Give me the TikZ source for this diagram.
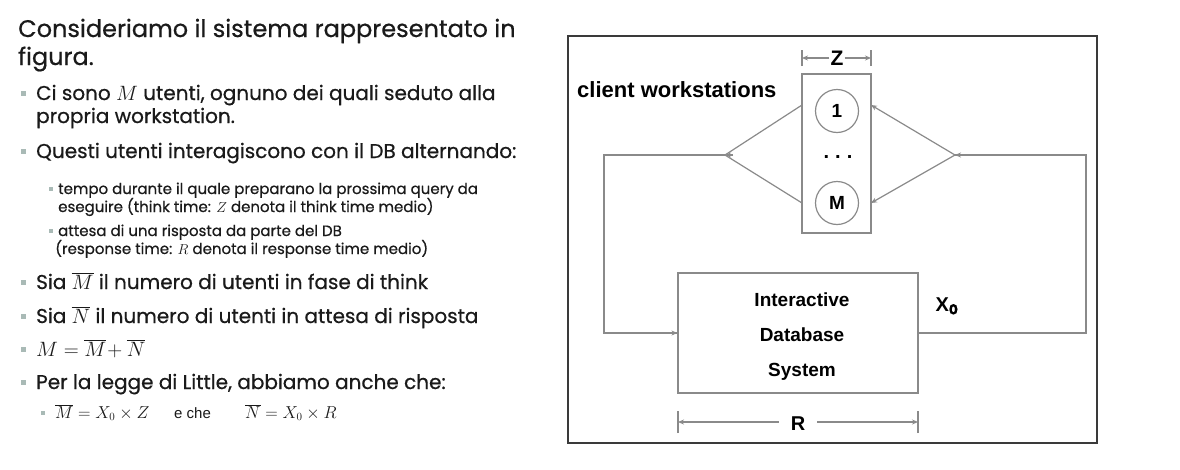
\documentclass[tikz,border=0pt]{standalone}
\usepackage{fontspec}
\setmainfont{Poppins}[FakeBold=0.6]
\newfontfamily\diag{Liberation Sans}
\usetikzlibrary{arrows.meta}
\definecolor{txt}{HTML}{1A1A1A}
\definecolor{bul}{HTML}{A9BAB6}
\definecolor{lnc}{HTML}{8A8A8A}
\definecolor{frm}{HTML}{3A3A3A}
\begin{document}
\begin{tikzpicture}[x=1pt,y=-1pt,
  tl/.style={anchor=base west,inner sep=0pt,text=txt},
  big/.style={tl,font=\fontsize{24}{28}\selectfont},
  mid/.style={tl,font=\fontsize{20}{24}\selectfont},
  sml/.style={tl,font=\fontsize{15}{18}\selectfont},
  bulsq/.style={fill=bul,draw=none,minimum size=5pt,inner sep=0pt},
  sbulsq/.style={fill=bul,draw=none,minimum size=4pt,inner sep=0pt},
  lab/.style={font=\diag\bfseries\fontsize{19}{22}\selectfont,inner sep=1pt,text=black},
  ln/.style={draw=lnc,line width=1.2pt},
  tip/.style={-{Stealth[length=6pt,width=5pt]}},
  box/.style={draw=lnc,line width=1.2pt,inner sep=0pt}
]
\useasboundingbox (0,0) rectangle (1180,469);
% ---------- left text ----------
\node[big] (t1) at (18,37) {Consideriamo il sistema rappresentato in};
\node[big] (t2) at (18,65) {figura.};
\node[bulsq] (b1) at (23,93) {};
\node[mid] (l1) at (36,100) {Ci sono $M$ utenti, ognuno dei quali seduto alla};
\node[mid] (l1b) at (36,123) {propria workstation.};
\node[bulsq] (b2) at (23,151) {};
\node[mid] (l2) at (36,158) {Questi utenti interagiscono con il DB alternando:};
\node[sbulsq] (s1) at (51,189) {};
\node[sml] (m1) at (58,194) {tempo durante il quale preparano la prossima query da};
\node[sml] (m1b) at (58,212) {eseguire (think time: $Z$ denota il think time medio)};
\node[sbulsq] (s2) at (51,231) {};
\node[sml] (m2) at (58,236) {attesa di una risposta da parte del DB};
\node[sml] (m2b) at (55,254) {(response time: $R$ denota il response time medio)};
\node[bulsq] (b3) at (23,282) {};
\node[mid] (l3) at (36,289) {Sia $\overline{M}$ il numero di utenti in fase di think};
\node[bulsq] (b4) at (23,316) {};
\node[mid] (l4) at (36,323) {Sia $\overline{N}$ il numero di utenti in attesa di risposta};
\node[bulsq] (b5) at (23,349) {};
\node[mid,font=\fontsize{21}{24}\selectfont] (l5) at (36,356) {$M=\overline{M}\!+\overline{N}$};
\node[bulsq] (b6) at (23,382) {};
\node[mid] (l6) at (36,389) {Per la legge di Little, abbiamo anche che:};
\node[sbulsq] (s3) at (43,413) {};
\node[sml,font=\fontsize{16}{18}\selectfont] (m3) at (55,418) {$\overline{M}=X_0\times Z$};
\node[sml] (m3b) at (174,418) {\diag e che};
\node[sml,font=\fontsize{16}{18}\selectfont] (m3c) at (245,418) {$\overline{N}=X_0\times R$};
% ---------- diagram ----------
\draw[draw=frm,line width=2.2pt] (568,36) rectangle (1097,443);
\node[box,minimum width=69pt,minimum height=159pt] (ws) at (836.5,153.5) {};
\node[box,circle,minimum size=43pt,lab] (c1) at (837,111) {1};
\node[box,circle,minimum size=43pt,lab] (cM) at (837,203) {M};
\node[lab,anchor=base,font=\diag\bfseries\fontsize{20}{22}\selectfont] (dots) at (838,158) {.\hspace{6pt}.\hspace{6pt}.};
\node[box,minimum width=240pt,minimum height=120pt] (db) at (798,333) {};
\node[lab] (dbt1) at (802,300) {Interactive};
\node[lab] (dbt2) at (802,335) {Database};
\node[lab] (dbt3) at (802,372) {System};
\node[lab,anchor=west,font=\diag\bfseries\fontsize{22}{24}\selectfont] (cw) at (576,90) {client workstations};
\node[lab,font=\diag\bfseries\fontsize{20}{22}\selectfont] (x0) at (947,306) {X$_{\mathbf 0}$};
\coordinate (fl) at (725,155);
\coordinate (fr) at (955,155);
\coordinate (wl1) at (802,105);
\coordinate (wlM) at (802,203);
\coordinate (wr1) at (871,105);
\coordinate (wrM) at (871,203);
\coordinate (lc) at (604,155);
\coordinate (rc) at (1086,155);
\draw[ln] (wl1) -- (fl) -- (wlM);
\draw[ln,tip] ([xshift=8pt]fl) -- (fl);
\draw[ln] (fl) -- (lc) |- (db.west);
\draw[ln,tip] ([xshift=-14pt]db.west) -- (db.west);
\draw[ln] (db.east) -| (rc) -- (fr);
\draw[ln,tip] ([xshift=8pt]fr) -- (fr);
\draw[ln,tip] (fr) -- (wr1);
\draw[ln,tip] (fr) -- (wrM);
% Z dimension
\node[lab,font=\diag\bfseries\fontsize{21}{22}\selectfont] (z) at (837,58) {Z};
\coordinate (zl) at (802,58);
\coordinate (zr) at (871,58);
\draw[ln] ([yshift=-8pt]zl) -- ([yshift=8pt]zl);
\draw[ln] ([yshift=-8pt]zr) -- ([yshift=8pt]zr);
\draw[ln,tip] (z.west) -- (zl);
\draw[ln,tip] (z.east) -- (zr);
% R dimension
\node[lab,inner xsep=12pt,font=\diag\bfseries\fontsize{20}{22}\selectfont] (r) at (798,424) {R};
\coordinate (rl) at (678,422);
\coordinate (rr) at (918,422);
\draw[ln] ([yshift=-11pt]rl) -- ([yshift=11pt]rl);
\draw[ln] ([yshift=-11pt]rr) -- ([yshift=11pt]rr);
\draw[ln,tip] (r.west |- rl) -- (rl);
\draw[ln,tip] (r.east |- rr) -- (rr);
\end{tikzpicture}
\end{document}
